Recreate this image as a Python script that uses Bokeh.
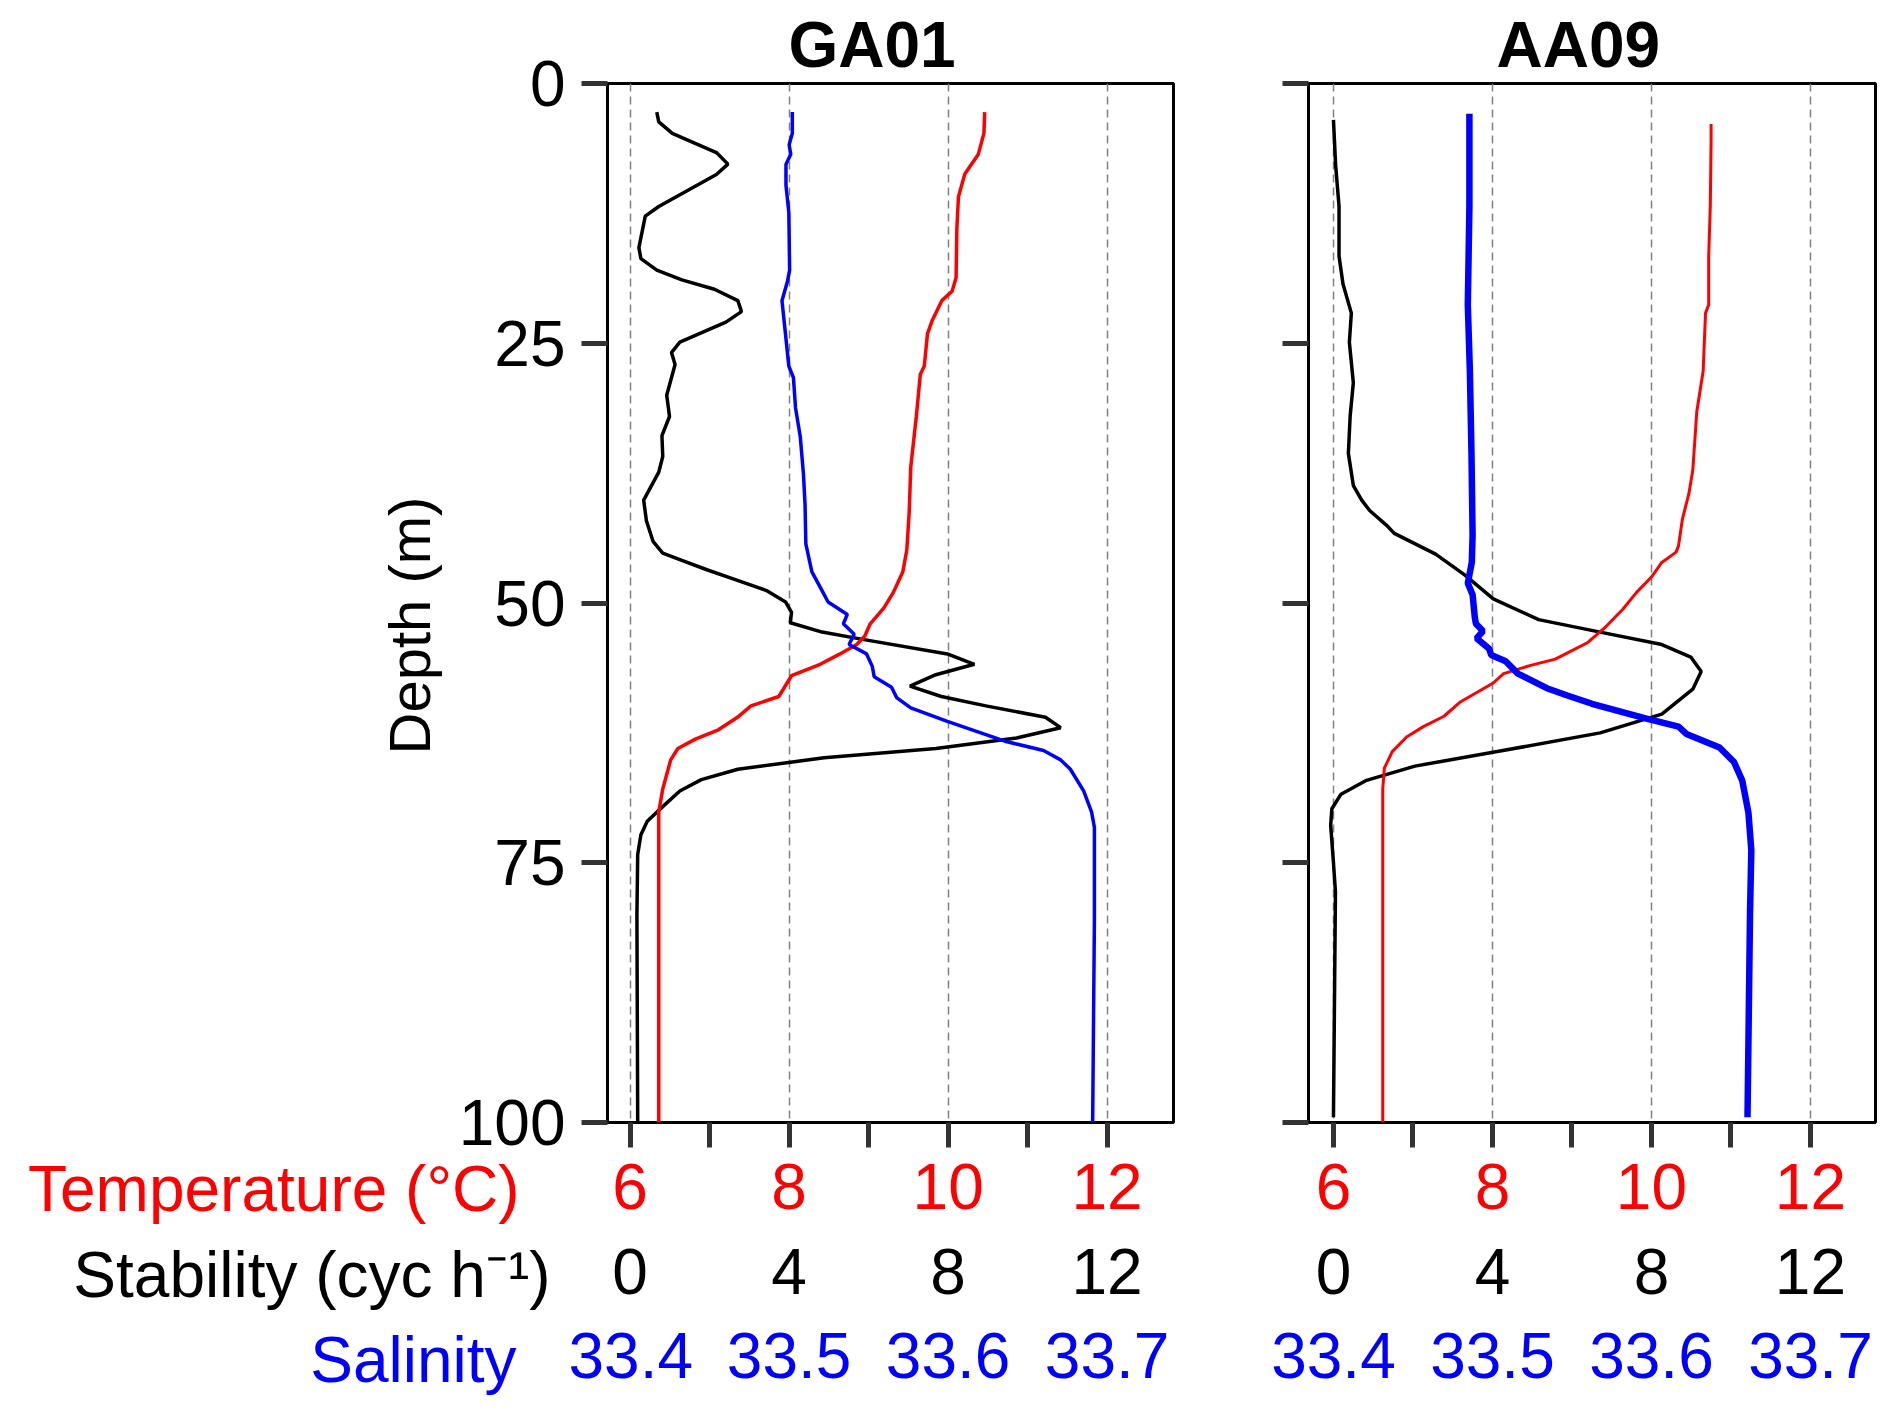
from bokeh.plotting import figure
from bokeh.layouts import row, column
from bokeh.models import Range1d, LinearAxis, FixedTicker, Label, Title
from bokeh.embed import file_html
from bokeh.resources import INLINE

FONT = "Liberation Sans"

depth_ticks = [0, 25, 50, 75, 100]
temp_ticks = [6, 8, 10, 12]
temp_minor = [7, 9, 11]
stab_ticks = [0, 4, 8, 12]
sal_ticks = [33.4, 33.5, 33.6, 33.7]

temp_name = "Temperature (°C)"
row_names = ["Stability (cyc h\u207b\u00b9)", "Salinity"]
row_colors = ["black", "blue"]

# GA01 profiles (depth in m)
ga_stab_depth = [2.75, 3.7, 4.8, 6.65, 7.76, 8.76, 11.84, 12.77, 15.8, 16.85, 17.96, 18.9, 19.8,
                 20.9, 21.96, 22.97, 24.9, 25.9, 27.05, 30.0, 32.05, 33.9, 35.9, 37.4, 40.1, 42.1,
                 44.1, 45.2, 45.9, 46.8, 47.7, 48.8, 49.9, 50.9, 51.9, 52.8, 53.5, 54.9, 55.9, 56.9,
                 58.0, 59.0, 59.9, 61.0, 62.0, 63.0, 64.0, 64.9, 66.0, 67.0, 68.1, 69.6, 71.0, 72.3,
                 74.2, 80.0, 100.0]
ga_stab = [0.67, 0.72, 1.06, 2.17, 2.46, 2.17, 0.72, 0.38, 0.22, 0.27, 0.67, 1.30, 2.12,
           2.71, 2.80, 2.41, 1.25, 1.04, 1.13, 0.92, 0.99, 0.80, 0.82, 0.72, 0.34, 0.41,
           0.58, 0.82, 1.30, 1.93, 2.61, 3.43, 3.91, 4.06, 4.03, 4.83, 5.85, 7.98, 8.66, 7.69,
           7.04, 7.83, 8.95, 10.45, 10.83, 9.72, 7.69, 4.88, 2.71, 1.79, 1.25, 0.82, 0.43, 0.27,
           0.19, 0.17, 0.19]

ga_temp_depth = [2.75, 4.8, 6.8, 8.7, 10.9, 13.9, 18.7, 20.0, 20.9, 22.8, 24.1, 27.2, 28.0, 32.05,
                 36.9, 41.3, 44.9, 47.0, 49.0, 50.5, 52.0, 53.2, 54.0, 54.9, 55.9, 57.0, 59.0, 59.9,
                 61.0, 62.2, 63.1, 64.0, 65.1, 67.9, 70.1, 100.0]
ga_temp = [10.46, 10.45, 10.38, 10.21, 10.13, 10.11, 10.10, 10.05, 9.92, 9.80, 9.74, 9.70, 9.65, 9.60,
           9.53, 9.51, 9.48, 9.43, 9.31, 9.19, 9.02, 8.95, 8.85, 8.64, 8.39, 8.03, 7.87, 7.52,
           7.35, 7.11, 6.82, 6.60, 6.51, 6.41, 6.36, 6.36]

ga_sal_depth = [2.75, 4.8, 5.9, 6.8, 7.8, 9.8, 12.4, 17.96, 19.0, 20.9, 23.1, 27.2, 28.3, 31.2, 34.0,
                37.6, 40.5, 44.3, 47.0, 48.5, 49.9, 51.1, 52.0, 53.0, 54.0, 54.9, 56.1, 57.1, 58.1,
                59.1, 60.1, 61.4, 63.3, 64.2, 65.1, 66.0, 68.1, 70.1, 71.6, 80.5, 100.0]
ga_sal = [33.502, 33.502, 33.500, 33.501, 33.498, 33.498, 33.4998, 33.5003, 33.499, 33.4955, 33.497,
          33.4998, 33.5027, 33.504, 33.507, 33.509, 33.510, 33.5105, 33.5143, 33.5196, 33.5245,
          33.5366, 33.5341, 33.5409, 33.5377, 33.5487, 33.5523, 33.5535, 33.5644, 33.5676, 33.5765,
          33.5995, 33.6357, 33.66, 33.6708, 33.6769, 33.6853, 33.6902, 33.692, 33.692, 33.6909]

# AA09 profiles
aa_stab_depth = [3.5, 7.9, 11.8, 16.6, 19.3, 22.1, 24.9, 28.8, 32.0, 35.6, 38.7, 40.1, 41.1, 42.5,
                 43.3, 45.3, 47.3, 49.6, 51.6, 52.8, 54.0, 55.2, 56.6, 58.3, 60.7, 62.5, 64.3, 65.7,
                 67.1, 68.4, 69.8, 71.4, 75.0, 77.8, 99.5]
aa_stab = [0.0, 0.055, 0.14, 0.14, 0.24, 0.45, 0.40, 0.50, 0.42, 0.375, 0.50, 0.71, 0.91, 1.33,
           1.53, 2.57, 3.30, 4.02, 5.16, 6.71, 8.26, 8.99, 9.25, 9.04, 8.26, 6.71, 4.12, 2.05,
           0.81, 0.19, -0.04, -0.07, 0.0, 0.05, 0.0]

aa_temp_depth = [3.9, 5.5, 11.8, 16.6, 21.3, 22.1, 27.7, 31.6, 37.2, 39.5, 41.9, 44.5, 45.1, 46.1,
                 47.5, 49.0, 50.6, 52.4, 53.8, 55.4, 56.0, 56.8, 57.7, 59.5, 60.9, 61.9, 62.9, 64.3,
                 65.9, 67.9, 100.0]
aa_temp = [10.75, 10.75, 10.74, 10.72, 10.72, 10.68, 10.65, 10.57, 10.52, 10.47, 10.39, 10.34, 10.31,
           10.13, 10.0, 9.81, 9.64, 9.41, 9.20, 8.79, 8.48, 8.14, 8.01, 7.60, 7.39, 7.13, 6.92, 6.74,
           6.64, 6.62, 6.62]

aa_sal_depth = [2.9, 11.8, 21.3, 27.7, 35.6, 43.5, 46.1, 48.1, 49.2, 51.4, 52.0, 52.7, 53.4, 54.4,
                55.0, 55.6, 56.8, 58.2, 58.9, 59.7, 61.1, 61.9, 62.6, 63.9, 65.3, 67.1, 70.2, 73.8,
                79.7, 99.5]
aa_sal = [33.4855, 33.4855, 33.4845, 33.4858, 33.4868, 33.4875, 33.487, 33.4845, 33.4875, 33.4889,
          33.4896, 33.494, 33.49, 33.4979, 33.4992, 33.5083, 33.516, 33.5342, 33.5471, 33.5626,
          33.5963, 33.617, 33.622, 33.6428, 33.6519, 33.6571, 33.661, 33.6628, 33.662, 33.6604]

BOTTOM_H = 179


def extra_ranges(x0, x1):
    # stability and salinity scales share the frame with temperature
    return {"stab": Range1d((x0 - 6) * 2, (x1 - 6) * 2),
            "sal": Range1d(33.4 + (x0 - 6) * 0.05, 33.4 + (x1 - 6) * 0.05)}


def label_axis(a, ticks, color, standoff):
    a.ticker = FixedTicker(ticks=ticks)
    a.axis_line_color = None
    a.major_tick_line_color = None
    a.minor_tick_line_color = None
    a.major_tick_out = 0
    a.major_tick_in = 0
    a.minor_tick_out = 0
    a.major_label_text_font = FONT
    a.major_label_text_font_size = "64px"
    a.major_label_text_color = color
    a.major_label_standoff = standoff


def top_panel(name, x0, x1, frame_w, border_l, border_r, title_offset, stab_d, stab, temp_d, temp,
              sal_d, sal, first, red_w, blue_w):
    p = figure(frame_width=frame_w, frame_height=1039, output_backend="svg", toolbar_location=None,
               x_range=Range1d(x0, x1), y_range=Range1d(100, 0),
               min_border_left=border_l, min_border_right=border_r,
               min_border_top=83, min_border_bottom=106)
    p.extra_x_ranges = extra_ranges(x0, x1)
    p.title = Title(text=name, align="left", offset=title_offset, standoff=5,
                    vertical_align="bottom", text_font=FONT, text_font_size="64px",
                    text_font_style="bold", text_color="black")
    p.outline_line_color = "black"
    p.outline_line_width = 3
    p.background_fill_color = "white"
    p.border_fill_color = "white"

    p.ygrid.visible = False
    p.xgrid.ticker = FixedTicker(ticks=temp_ticks)
    p.xgrid.grid_line_color = "#808080"
    p.xgrid.grid_line_dash = "8 5"
    p.xgrid.grid_line_width = 1.5

    ax = p.xaxis[0]
    ax.ticker = FixedTicker(ticks=temp_ticks, minor_ticks=temp_minor)
    ax.axis_line_color = None
    ax.major_tick_in = 0
    ax.major_tick_out = 25
    ax.minor_tick_in = 0
    ax.minor_tick_out = 25
    ax.major_tick_line_width = 5
    ax.minor_tick_line_width = 5
    ax.major_tick_line_color = "#333333"
    ax.minor_tick_line_color = "#333333"
    ax.major_label_text_font = FONT
    ax.major_label_text_font_size = "64px"
    ax.major_label_text_color = "red"
    ax.major_label_standoff = 16

    ay = p.yaxis[0]
    ay.ticker = FixedTicker(ticks=depth_ticks)
    ay.axis_line_color = None
    ay.major_tick_in = 0
    ay.major_tick_out = 26
    ay.major_tick_line_width = 5
    ay.major_tick_line_color = "#333333"
    ay.minor_tick_line_color = None
    if first:
        ay.major_label_text_font = FONT
        ay.major_label_text_font_size = "64px"
        ay.major_label_text_color = "black"
        ay.major_label_standoff = 16
        p.add_layout(Title(text="Depth (m)", align="left", offset=368, standoff=28,
                           vertical_align="bottom", text_font=FONT, text_font_size="58px",
                           text_font_style="normal", text_color="black"), "left")
        # row title of the temperature scale, level with its tick labels
        p.add_layout(Title(text=temp_name, align="right", offset=654, standoff=-118,
                           vertical_align="top", text_font=FONT, text_font_size="64px",
                           text_font_style="normal", text_color="red"), "below")
    else:
        ay.major_label_overrides = {t: "" for t in depth_ticks}
        ay.major_label_text_font_size = "1px"
        ay.major_label_standoff = 0

    p.line(stab, stab_d, x_range_name="stab", line_color="black", line_width=3.5)
    p.line(temp, temp_d, line_color="red", line_width=red_w)
    p.line(sal, sal_d, x_range_name="sal", line_color="blue", line_width=blue_w)
    return p


def bottom_axes(x0, x1, frame_w, border_l, border_r):
    p = figure(frame_width=frame_w, frame_height=1, output_backend="svg", toolbar_location=None,
               x_range=Range1d(x0, x1), y_range=Range1d(0, 1), y_axis_location=None,
               x_axis_location=None, min_border_left=border_l, min_border_right=border_r,
               min_border_top=0, min_border_bottom=BOTTOM_H - 1)
    p.extra_x_ranges = extra_ranges(x0, x1)
    p.outline_line_color = None
    p.grid.visible = False
    p.border_fill_color = "white"
    p.background_fill_color = "white"
    for rng, ticks, color, standoff in (("stab", stab_ticks, "black", 19),
                                        ("sal", sal_ticks, "blue", 36)):
        a = LinearAxis(x_range_name=rng)
        label_axis(a, ticks, color, standoff)
        p.add_layout(a, "below")
    return p


# row titles sit left of the tick-label rows (pixel positions inside their own canvas)
lab_w = 568
labels = figure(frame_width=lab_w, frame_height=BOTTOM_H, output_backend="svg", toolbar_location=None,
                x_range=Range1d(0, lab_w), y_range=Range1d(BOTTOM_H, 0), min_border=0,
                x_axis_location=None, y_axis_location=None)
labels.outline_line_color = None
labels.grid.visible = False
labels.border_fill_color = "white"
labels.background_fill_color = "white"
row_right = [550, 516]
row_base = [46, 131]
for txt, c, xr, yb in zip(row_names, row_colors, row_right, row_base):
    labels.add_layout(Label(x=xr, y=yb, text=txt, text_font=FONT, text_font_size="64px",
                            text_color=c, text_align="right", text_baseline="alphabetic"))

left_top = top_panel("GA01", 5.715, 12.835, 566, 607, 40, 181, ga_stab_depth, ga_stab,
                     ga_temp_depth, ga_temp, ga_sal_depth, ga_sal, True, 3.5, 3.5)
right_top = top_panel("AA09", 5.686, 12.818, 567, 95, 5, 188, aa_stab_depth, aa_stab,
                      aa_temp_depth, aa_temp, aa_sal_depth, aa_sal, False, 3, 6.5)
left_bot = bottom_axes(5.715, 12.835, 566, 39, 40)
right_bot = bottom_axes(5.686, 12.818, 567, 95, 5)

p = column(row(left_top, right_top), row(labels, left_bot, right_bot))

open("out.html", "w").write(file_html(p, INLINE))
